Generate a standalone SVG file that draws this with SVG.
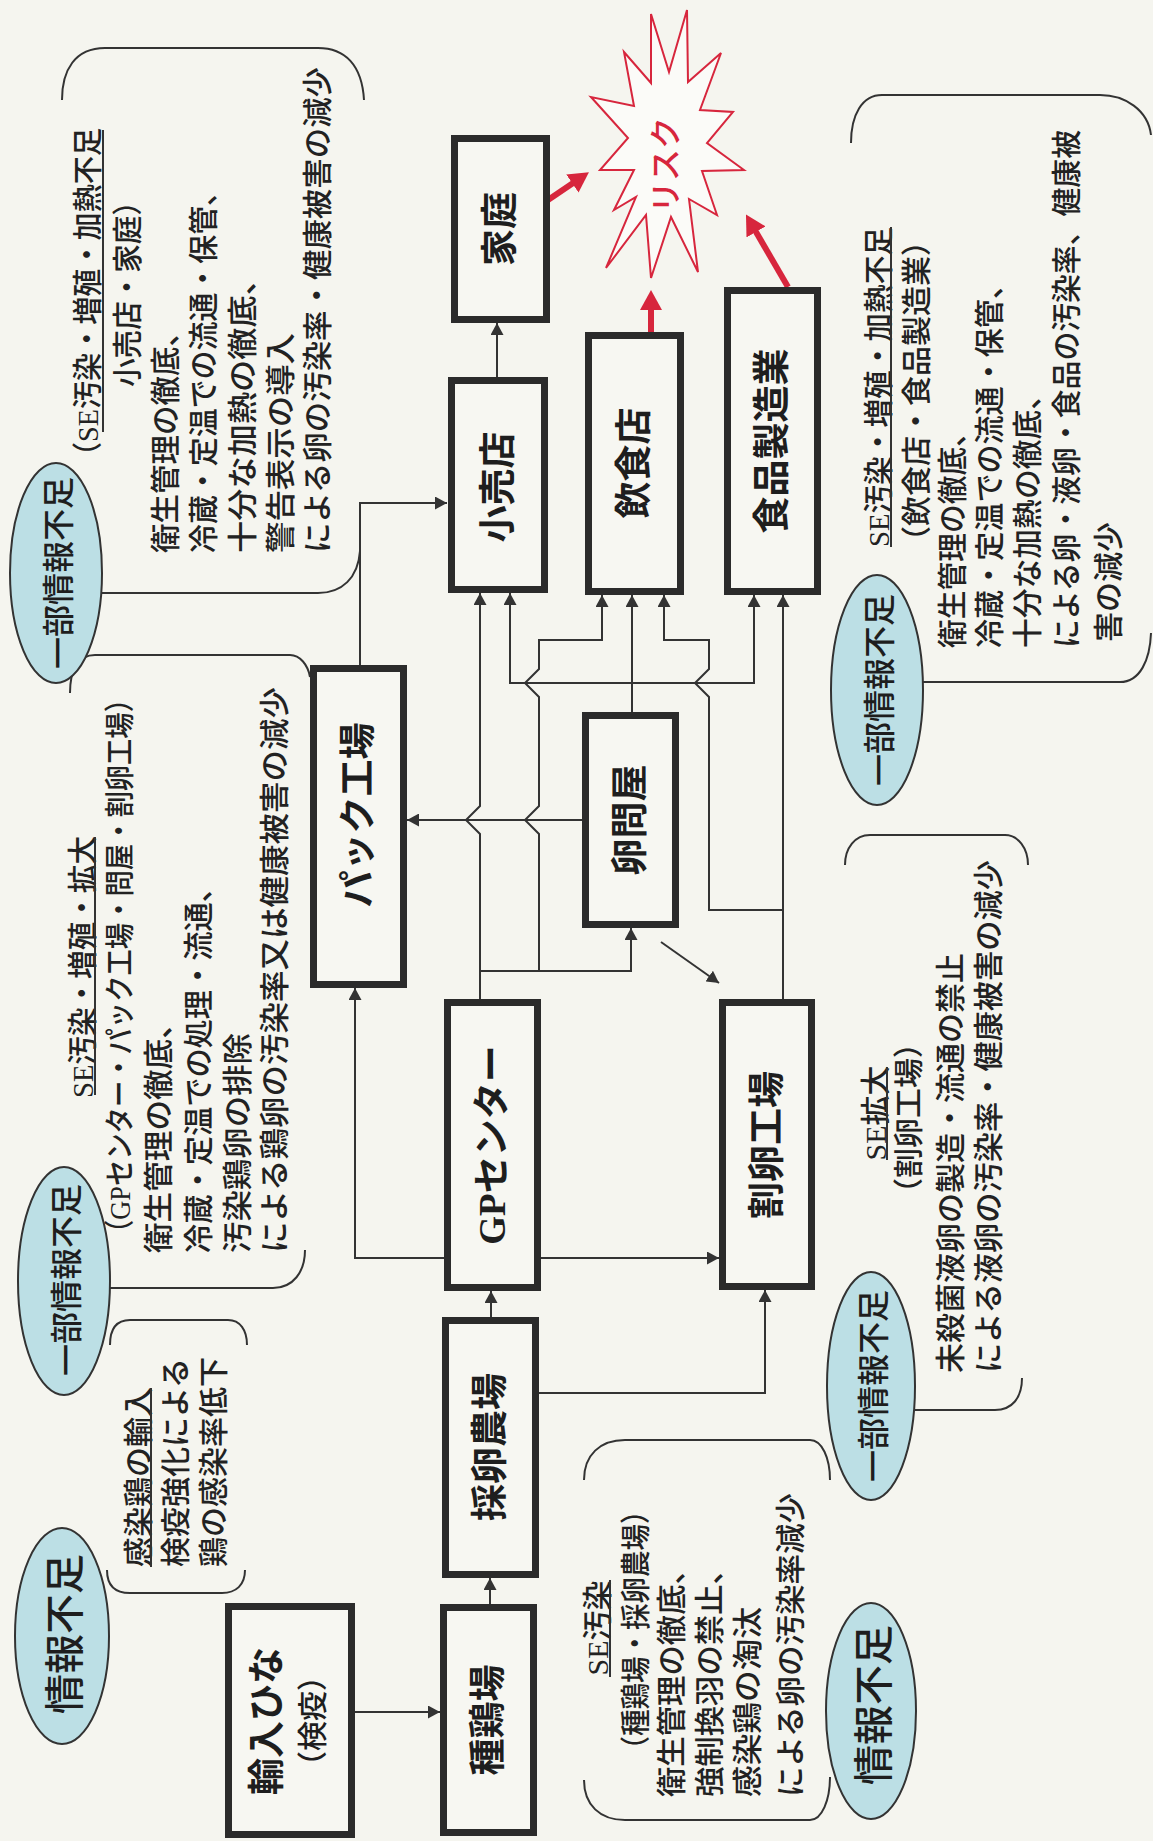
<svg xmlns="http://www.w3.org/2000/svg" width="1153" height="1841" viewBox="0 0 1153 1841">
<defs>
<style>
.bg{fill:#f5f5ef}
.box{fill:#f7f7f2;stroke:#2b2b2b;stroke-width:7}
.lbl{font-family:"Liberation Serif","Noto Sans CJK JP",sans-serif;font-size:37px;font-weight:700;fill:#1e1e1e;text-anchor:middle;dominant-baseline:central}
.nt{font-family:"Liberation Serif","Noto Sans CJK JP",sans-serif;font-size:30px;font-weight:500;fill:#222;dominant-baseline:central;text-anchor:start}
.m{text-anchor:middle}
.ell{fill:#bcdfe5;stroke:#333;stroke-width:2}
.et{font-family:"Noto Sans CJK JP",sans-serif;font-size:32px;font-weight:500;fill:#1e1e1e;text-anchor:middle;dominant-baseline:central}
.big{font-size:40px}
.br{fill:none;stroke:#333;stroke-width:2}
.ul{stroke:#333;stroke-width:2}
.cn{fill:none;stroke:#333;stroke-width:2;marker-end:url(#ah)}
.red{fill:none;stroke:#d7263d;stroke-width:6;marker-end:url(#rh)}
.star{fill:#fbfbf8;stroke:#d7263d;stroke-width:2}
.rt{font-family:"Noto Sans CJK JP",sans-serif;font-size:32px;font-weight:500;fill:#d7263d;text-anchor:middle;dominant-baseline:central}
</style>
<marker id="ah" markerUnits="userSpaceOnUse" markerWidth="13" markerHeight="13" refX="12" refY="6.5" orient="auto"><path d="M0,0 L12,6.5 L0,13 z" fill="#333"/></marker>
<marker id="rh" markerUnits="userSpaceOnUse" markerWidth="22" markerHeight="22" refX="8" refY="11" orient="auto"><path d="M0,0 L20,11 L0,22 z" fill="#d7263d"/></marker>
</defs>
<rect class="bg" x="0" y="0" width="1153" height="1841"/>

<g id="brackets">
<path class="br" d="M62,100 C62,70 75,48 105,48 H318 C345,48 362,65 364,100"/>
<path class="br" d="M102,593 H318 C342,593 358,578 360,551"/>
<path class="br" d="M70,693 C70,670 78,655 95,655 H290 C300,655 308,665 310,677"/>
<path class="br" d="M110,1288 H273 C293,1288 305,1272 305,1250"/>
<path class="br" d="M110,1345 C110,1330 116,1320 130,1320 H228 C240,1320 247,1330 247,1345"/>
<path class="br" d="M107,1570 C107,1585 115,1593 130,1593 H222 C236,1593 245,1585 245,1570"/>
<path class="br" d="M584,1480 C584,1455 600,1440 625,1440 H810 C822,1440 830,1458 830,1480"/>
<path class="br" d="M584,1780 C584,1805 600,1820 625,1820 H810 C822,1820 830,1800 830,1777"/>
<path class="br" d="M845,865 C845,848 855,835 870,835 H1005 C1018,835 1028,848 1028,865"/>
<path class="br" d="M915,1410 H995 C1012,1410 1022,1398 1022,1378"/>
<path class="br" d="M851,143 C851,115 862,95 882,95 H1100 C1125,95 1148,110 1151,135"/>
<path class="br" d="M923,682 H1120 C1140,682 1150,660 1151,633"/>
</g>

<g id="connectors">
<path class="cn" d="M355,1712 H440"/>
<path class="cn" d="M490,1604 V1578"/>
<path class="cn" d="M491,1317 V1291"/>
<path class="cn" d="M539,1393 H765 V1290"/>
<path class="cn" d="M541,1258 H719"/>
<path class="cn" d="M444,1258 H355 V988"/>
<path class="cn" d="M480,999 V834 L466,820 L480,806 V593"/>
<path class="cn" d="M480,971 H631 V928"/>
<path class="cn" d="M539,971 V834 L525,820 L539,806 V697 L525,683 L539,669 V640 H602 V595"/>
<path class="cn" d="M582,820 H407"/>
<path class="cn" d="M632,712 V595"/>
<path class="cn" d="M632,683 H510 V593"/>
<path class="cn" d="M632,683 H754 V595"/>
<path class="cn" d="M661,942 L719,983"/>
<path class="cn" d="M783,999 V595"/>
<path class="cn" d="M783,910 H709 V697 L695,683 L709,669 V640 H664 V595"/>
<path class="cn" d="M360,665 V503 H447"/>
<path class="cn" d="M497,377 V323"/>
<path class="red" d="M548,200 L579,179"/>
<path class="red" d="M651,333 V302"/>
<path class="red" d="M788,287 L752,225"/>
</g>

<g id="n-risk">
<polygon class="star" points="687,10 688,82 721,53 700,110 733,112 707,143 744,170 702,171 717,215 689,199 698,272 671,217 651,278 646,215 606,268 636,197 614,210 634,170 600,170 628,138 591,97 634,106 624,52 651,83 651,14 669,72"/>
<text class="rt" transform="translate(663 165) rotate(-90)">リスク</text>
</g>

<g id="n-katei"><rect class="box" x="454.5" y="138.5" width="92" height="181"/><text class="lbl" transform="translate(500 229) rotate(-90)">家庭</text></g>
<g id="n-kouriten"><rect class="box" x="451.5" y="380.5" width="93" height="209"/><text class="lbl" transform="translate(498 487) rotate(-90)">小売店</text></g>
<g id="n-inshokuten"><rect class="box" x="588.5" y="335.5" width="92" height="256"/><text class="lbl" transform="translate(634 463) rotate(-90)">飲食店</text></g>
<g id="n-shokuhin"><rect class="box" x="727.5" y="290.5" width="90" height="301"/><text class="lbl" transform="translate(772 441) rotate(-90)">食品製造業</text></g>
<g id="n-pack"><rect class="box" x="313.5" y="668.5" width="90" height="316"/><text class="lbl" transform="translate(358 815) rotate(-90)">パック工場</text></g>
<g id="n-tondya"><rect class="box" x="585.5" y="715.5" width="90" height="209"/><text class="lbl" transform="translate(630 820) rotate(-90)">卵問屋</text></g>
<g id="n-gp"><rect class="box" x="447.5" y="1002.5" width="90" height="285"/><text class="lbl" transform="translate(492 1145) rotate(-90)">GPセンター</text></g>
<g id="n-warran"><rect class="box" x="722.5" y="1002.5" width="89" height="284"/><text class="lbl" transform="translate(767 1145) rotate(-90)">割卵工場</text></g>
<g id="n-sairan"><rect class="box" x="445.5" y="1320.5" width="90" height="254"/><text class="lbl" transform="translate(490 1447) rotate(-90)">採卵農場</text></g>
<g id="n-shukei"><rect class="box" x="443.5" y="1607.5" width="90" height="225"/><text class="lbl" transform="translate(488 1720) rotate(-90)">種鶏場</text></g>
<g id="n-yunyu"><rect class="box" x="228.5" y="1606.5" width="123" height="228"/><text class="lbl" transform="translate(267 1721) rotate(-90)">輸入ひな</text><text class="lbl" style="font-size:30px;font-weight:500" transform="translate(312 1721) rotate(-90)">（検疫）</text></g>

<g id="bubbles">
<g id="b1"><ellipse class="ell" cx="62" cy="1636" rx="47" ry="108"/><text class="et big" transform="translate(62 1634) rotate(-90)">情報不足</text></g>
<g id="b2"><ellipse class="ell" cx="64" cy="1281" rx="46" ry="114"/><text class="et" transform="translate(64 1280) rotate(-90)">一部情報不足</text></g>
<g id="b3"><ellipse class="ell" cx="56" cy="573" rx="46" ry="110"/><text class="et" transform="translate(56 573) rotate(-90)">一部情報不足</text></g>
<g id="b4"><ellipse class="ell" cx="871" cy="1386" rx="44" ry="114"/><text class="et" transform="translate(871 1386) rotate(-90)">一部情報不足</text></g>
<g id="b5"><ellipse class="ell" cx="877" cy="690" rx="46" ry="115"/><text class="et" transform="translate(877 690) rotate(-90)">一部情報不足</text></g>
<g id="b6"><ellipse class="ell" cx="871" cy="1711" rx="45" ry="108"/><text class="et big" transform="translate(871 1705) rotate(-90)">情報不足</text></g>
</g>

<g id="note-kouri">
<text class="nt" transform="translate(87 470) rotate(-90)" textLength="342" lengthAdjust="spacingAndGlyphs">（SE汚染・増殖・加熱不足</text>
<line class="ul" x1="103" y1="130" x2="103" y2="432"/>
<text class="nt" transform="translate(127 387) rotate(-90)" textLength="200" lengthAdjust="spacingAndGlyphs">小売店・家庭）</text>
<text class="nt" transform="translate(165 553) rotate(-90)" textLength="236" lengthAdjust="spacingAndGlyphs">衛生管理の徹底、</text>
<text class="nt" transform="translate(203 553) rotate(-90)" textLength="376" lengthAdjust="spacingAndGlyphs">冷蔵・定温での流通・保管、</text>
<text class="nt" transform="translate(242 553) rotate(-90)" textLength="290" lengthAdjust="spacingAndGlyphs">十分な加熱の徹底、</text>
<text class="nt" transform="translate(280 553) rotate(-90)" textLength="220" lengthAdjust="spacingAndGlyphs">警告表示の導入</text>
<text class="nt" transform="translate(317 553) rotate(-90)" textLength="486" lengthAdjust="spacingAndGlyphs">による卵の汚染率・健康被害の減少</text>
</g>

<g id="note-gp">
<text class="nt m" transform="translate(82 967) rotate(-90)" textLength="262" lengthAdjust="spacingAndGlyphs">SE汚染・増殖・拡大</text>
<line class="ul" x1="95" y1="837" x2="95" y2="1095"/>
<text class="nt m" transform="translate(119 966) rotate(-90)" textLength="560" lengthAdjust="spacingAndGlyphs">（GPセンター・パック工場・問屋・割卵工場）</text>
<text class="nt" transform="translate(158 1253) rotate(-90)" textLength="245" lengthAdjust="spacingAndGlyphs">衛生管理の徹底、</text>
<text class="nt" transform="translate(198 1253) rotate(-90)" textLength="380" lengthAdjust="spacingAndGlyphs">冷蔵・定温での処理・流通、</text>
<text class="nt" transform="translate(237 1253) rotate(-90)" textLength="220" lengthAdjust="spacingAndGlyphs">汚染鶏卵の排除</text>
<text class="nt" transform="translate(274 1253) rotate(-90)" textLength="566" lengthAdjust="spacingAndGlyphs">による鶏卵の汚染率又は健康被害の減少</text>
</g>

<g id="note-warran">
<text class="nt m" transform="translate(875 1113) rotate(-90)">SE拡大</text>
<line class="ul" x1="887" y1="1067" x2="887" y2="1160"/>
<text class="nt m" transform="translate(908 1118) rotate(-90)">（割卵工場）</text>
<text class="nt" transform="translate(950 1373) rotate(-90)" textLength="420" lengthAdjust="spacingAndGlyphs">未殺菌液卵の製造・流通の禁止</text>
<text class="nt" transform="translate(988 1373) rotate(-90)" textLength="513" lengthAdjust="spacingAndGlyphs">による液卵の汚染率・健康被害の減少</text>
</g>

<g id="note-shokuhin">
<text class="nt m" transform="translate(878 387) rotate(-90)" textLength="320" lengthAdjust="spacingAndGlyphs">SE汚染・増殖・加熱不足</text>
<line class="ul" x1="891" y1="227" x2="891" y2="547"/>
<text class="nt m" transform="translate(916 391) rotate(-90)">（飲食店・食品製造業）</text>
<text class="nt" transform="translate(952 648) rotate(-90)" textLength="230" lengthAdjust="spacingAndGlyphs">衛生管理の徹底、</text>
<text class="nt" transform="translate(989 648) rotate(-90)" textLength="378" lengthAdjust="spacingAndGlyphs">冷蔵・定温での流通・保管、</text>
<text class="nt" transform="translate(1027 648) rotate(-90)" textLength="268" lengthAdjust="spacingAndGlyphs">十分な加熱の徹底、</text>
<text class="nt" transform="translate(1066 648) rotate(-90)" textLength="518" lengthAdjust="spacingAndGlyphs">による卵・液卵・食品の汚染率、健康被</text>
<text class="nt" transform="translate(1108 642) rotate(-90)">害の減少</text>
</g>

<g id="note-shukei">
<text class="nt m" transform="translate(597 1628) rotate(-90)">SE汚染</text>
<line class="ul" x1="610" y1="1580" x2="610" y2="1677"/>
<text class="nt m" transform="translate(635 1630) rotate(-90)" textLength="265" lengthAdjust="spacingAndGlyphs">（種鶏場・採卵農場）</text>
<text class="nt" transform="translate(671 1797) rotate(-90)" textLength="243" lengthAdjust="spacingAndGlyphs">衛生管理の徹底、</text>
<text class="nt" transform="translate(709 1797) rotate(-90)" textLength="243" lengthAdjust="spacingAndGlyphs">強制換羽の禁止、</text>
<text class="nt" transform="translate(747 1797) rotate(-90)" textLength="190" lengthAdjust="spacingAndGlyphs">感染鶏の淘汰</text>
<text class="nt" transform="translate(790 1797) rotate(-90)" textLength="304" lengthAdjust="spacingAndGlyphs">による卵の汚染率減少</text>
</g>

<g id="note-yunyu">
<text class="nt" transform="translate(138 1567) rotate(-90)">感染鶏の輸入</text>
<line class="ul" x1="151" y1="1388" x2="151" y2="1567"/>
<text class="nt" transform="translate(175 1567) rotate(-90)">検疫強化による</text>
<text class="nt" transform="translate(213 1567) rotate(-90)">鶏の感染率低下</text>
</g>
</svg>
